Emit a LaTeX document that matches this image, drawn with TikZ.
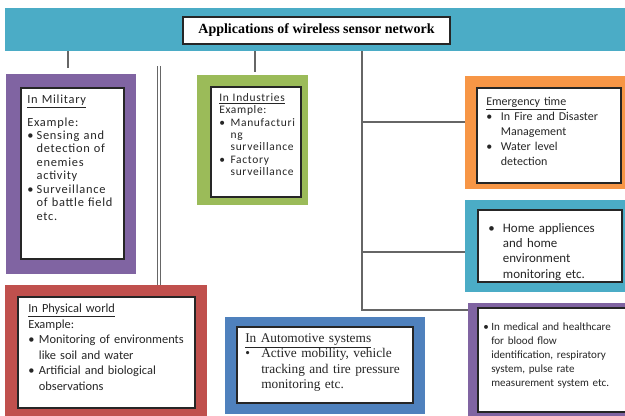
\documentclass[tikz,border=0pt]{standalone}
\usepackage{fontspec}
\setmainfont{Carlito}
\newfontfamily\widefont[LetterSpace=6]{Carlito}
\newfontfamily\timesfont{Liberation Serif}
\usetikzlibrary{fit}

\definecolor{wsnpurple}{HTML}{8064A2}
\definecolor{wsngreen}{HTML}{9BBB59}
\definecolor{wsnorange}{HTML}{F79646}
\definecolor{wsnteal}{HTML}{4BACC6}
\definecolor{wsnred}{HTML}{C0504D}
\definecolor{wsnblue}{HTML}{4F81BD}

% line break that stays inside the current paragraph
\newcommand\nl{\hfil\break}
% bullet paragraph with hanging indent: #1 = indent, #2 = text
\newcommand\bul[2]{\par\hangindent=#1\hangafter=1\noindent\makebox[#1][l]{\textbullet}#2\par}

\tikzset{
  frame/.style={draw=none, inner sep=0pt, rectangle},
  card/.style={draw=black!85, line width=0.8pt, fill=white, inner sep=0pt, rectangle},
  txt/.style={anchor=north west, inner sep=0pt, align=left, text=black!85},
  link/.style={draw=black!60, line width=0.8pt},
}

\begin{document}
\begin{tikzpicture}[x=0.75pt, y=-0.75pt]
\useasboundingbox (0,0) rectangle (625,416);

% header band and title
\node[frame, fill=wsnteal, fit={(5,8) (625,51)}] (band) {};
\node[card, line width=1pt, fit={(183,17) (450,44)}] (titlebox) {};
\node[inner sep=0pt, font=\timesfont\bfseries\fontsize{10.5}{12}\selectfont] (title) at (titlebox.center) {Applications of wireless sensor network};

% coloured frames
\node[frame, fill=wsnpurple, fit={(6,74) (136,274)}] (mil) {};
\node[frame, fill=wsngreen,  fit={(197,75) (308,205)}] (ind) {};
\node[frame, fill=wsnorange, fit={(465,76) (625,189)}] (emg) {};
\node[frame, fill=wsnteal,   fit={(465,200) (625,292)}] (home) {};
\node[frame, fill=wsnred,    fit={(5,285) (207,416)}] (phy) {};
\node[frame, fill=wsnblue,   fit={(225,317) (425,414)}] (auto) {};
\node[frame, fill=wsnpurple, fit={(468,303) (625,416)}] (med) {};

% white cards
\node[card, fit={(21,88) (124,259)}] (milc) {};
\node[card, fit={(211,87) (301,197)}] (indc) {};
\node[card, fit={(477,88) (621,183)}] (emgc) {};
\node[card, fit={(478,210) (622,282)}] (homec) {};
\node[card, fit={(18,297) (195,408)}] (phyc) {};
\node[card, fit={(237,327) (413,403)}] (autoc) {};
\node[card, fit={(478,308) (628,412)}] (medc) {};

% texts
\node[txt, font=\widefont\fontsize{9.3}{10.1}\selectfont, text width=85pt] (milt) at (27,95)
  {\noindent\underline{In Military}\\[6.5pt]Example:%
   \bul{7pt}{Sensing and\nl detection of\nl enemies\nl activity}%
   \bul{7pt}{Surveillance\nl of battle field\nl etc.}};

\node[txt, font=\widefont\fontsize{8.6}{9.3}\selectfont, text width=70pt] (indt) at (219,93)
  {\noindent\underline{In Industries}\\Example:%
   \bul{8.5pt}{Manufacturi\nl ng\nl surveillance}%
   \bul{8.5pt}{Factory\nl surveillance}};

\node[txt, font=\fontsize{9}{11.25}\selectfont, text width=110pt] (emgt) at (486,97)
  {\noindent\underline{Emergency time}%
   \bul{11pt}{In Fire and Disaster\nl Management}%
   \bul{11pt}{Water level\nl detection}};

\node[txt, font=\fontsize{9.7}{11.4}\selectfont, text width=110pt] (homet) at (488,217)
  {\bul{11pt}{Home appliences\nl and home\nl environment\nl monitoring etc.}};

\node[txt, font=\fontsize{9.3}{11.6}\selectfont, text width=130pt] (phyt) at (28,304)
  {\noindent\underline{In Physical world}\\Example:%
   \bul{8pt}{Monitoring of environments\nl like soil and water}%
   \bul{8pt}{Artificial and biological\nl observations}};

\node[txt, font=\timesfont\fontsize{10}{11.6}\selectfont, text width=130pt] (autot) at (245,333)
  {\noindent\underline{In Automotive systems}%
   \bul{12pt}{Active mobility, vehicle\nl tracking and tire pressure\nl monitoring etc.}};

\node[txt, font=\fontsize{8.3}{10.5}\selectfont, text width=110pt] (medt) at (483,316)
  {\bul{6pt}{In medical and healthcare\nl for blood flow\nl identification, respiratory\nl system, pulse rate\nl measurement system etc.}};

% connectors
\coordinate (t1) at (68,68);
\coordinate (t2) at (255,72);
\coordinate (trunk) at (362,310);
\coordinate (b1) at (362,122);
\coordinate (b2) at (362,252);
\coordinate (d1) at (159,66);
\coordinate (d2) at (159,285);

\draw[link] (band.south -| t1) -- (t1);
\draw[link] (band.south -| t2) -- (t2);
\draw[link] (band.south -| trunk) -- (trunk) -- (trunk -| med.west);
\draw[link] (b1) -- (b1 -| emg.west);
\draw[link] (b2) -- (b2 -| home.west);
\draw[draw=black!60, line width=0.6pt, double=white, double distance=2.2pt] (d1) -- (d2);
\end{tikzpicture}
\end{document}
